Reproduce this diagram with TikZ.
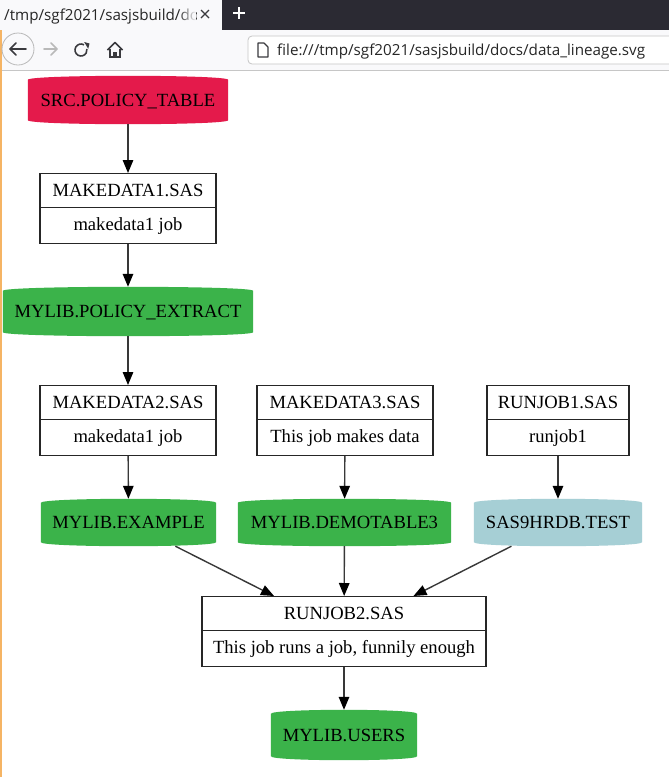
\documentclass[tikz,border=0pt]{standalone}
\usepackage{fontspec}
\setmainfont{Liberation Serif}
\newfontfamily\uifont{Open Sans}
\usetikzlibrary{arrows.meta,shapes.multipart,backgrounds,fadings}
\definecolor{srcred}{RGB}{228,26,75}
\definecolor{libgreen}{RGB}{59,179,74}
\definecolor{libblue}{RGB}{166,207,213}
\definecolor{barbg}{RGB}{43,42,51}
\definecolor{toolbg}{RGB}{249,249,251}
\definecolor{orangeline}{RGB}{245,180,100}
\definecolor{icondark}{RGB}{58,58,62}
\tikzset{
  dset/.style={minimum width=#1, minimum height=48pt, inner sep=0pt,
    text height=12.4pt, text depth=0pt, font=\fontsize{18.6}{22}\selectfont},
  jobbox/.style={draw=black!85, line width=1.1pt, rectangle split, rectangle split parts=2,
    minimum width=#1, inner xsep=0pt, inner ysep=8pt, anchor=north,
    font=\fontsize{18.6}{22}\selectfont, fill=white},
  flow/.style={draw=black!78, line width=1.4pt, -{Triangle[length=13pt,width=10.5pt,color=black]}},
  uitext/.style={font=\uifont\fontsize{15.2}{17}\selectfont, inner sep=0pt},
}
\newcommand\cylfill[2]{%
  \begin{scope}[on background layer]
  \fill[#2] ([yshift=-4pt]#1.north west) .. controls ([yshift=1.33pt]#1.north west) and ([yshift=1.33pt]#1.north east) .. ([yshift=-4pt]#1.north east)
    -- ([yshift=4pt]#1.south east) .. controls ([yshift=-1.33pt]#1.south east) and ([yshift=-1.33pt]#1.south west) .. ([yshift=4pt]#1.south west) -- cycle;
  \end{scope}}
\newcommand\jt[2]{\rule[-2.5pt]{0pt}{17pt}#1\nodepart{two}\rule[-2.5pt]{0pt}{17pt}#2}
\begin{document}
\begin{tikzpicture}[x=1pt,y=-1pt]
\useasboundingbox (0,0) rectangle (669,777);
\begin{scope}[on background layer]
\fill[white] (0,0) rectangle (669,777);
\end{scope}
% ---------- browser chrome ----------
\fill[barbg] (0,0) rectangle (669,30);
\fill[toolbg] (0,0) rectangle (222,30);
\fill[toolbg] (0,30) rectangle (669,70);
\draw[gray!45, line width=0.8pt] (0,70) -- (669,70);
\fill[orangeline] (0,30) rectangle (1.5,777);
\begin{scope}
  \clip (0,0) rectangle (196,30);
  \node[uitext, anchor=base west, text=black!85] (tabtext) at (4,20) {/tmp/sgf2021/sasjsbuild/docs/data\_lineage.svg};
  \fill[toolbg, path fading=west] (178,2) rectangle (196,28);
\end{scope}
\draw[icondark, line width=1.3pt] (201,10) -- (209,18) (201,18) -- (209,10);
\draw[white, line width=1.5pt] (233,13) -- (245,13) (239,7) -- (239,19);
% back
\draw[gray!55, line width=0.8pt, fill=toolbg] (18,49) circle (16);
\draw[icondark, line width=1.6pt, line cap=round, line join=round] (10,49) -- (26,49) (16,43) -- (10,49) -- (16,55);
% forward
\draw[gray!55, line width=1.6pt, line cap=round, line join=round] (44,49) -- (57,49) (51,43) -- (57,49) -- (51,55);
% reload
\begin{scope}[shift={(81,50)}, y=1pt]
  \draw[icondark, line width=1.6pt] (60:6) arc (60:370:6);
  \fill[icondark] (3.2,8) -- (8.5,6.5) -- (7.2,1.2) -- cycle;
\end{scope}
% home
\begin{scope}[shift={(115,50)}, y=1pt]
  \draw[icondark, line width=1.5pt, line join=round] (-7.5,0) -- (0,7.5) -- (7.5,0);
  \draw[icondark, line width=1.5pt] (-5,1.5) -- (-5,-7) -- (5,-7) -- (5,1.5);
  \fill[icondark] (-1.8,-7) rectangle (1.8,-2);
\end{scope}
% url bar
\draw[gray!45, line width=0.8pt, fill=white, rounded corners=4pt] (248,36) rectangle (690,64);
\draw[icondark, line width=1.1pt, line join=round] (258,43) -- (264,43) -- (268,47) -- (268,57) -- (258,57) -- cycle;
\node[uitext, anchor=base west, text=black!85] (url) at (277,55) {file:///tmp/sgf2021/sasjsbuild/docs/data\_lineage.svg};
% ---------- diagram ----------
\node[dset=200pt, minimum height=48pt] (src) at (128,100) {SRC.POLICY\_TABLE};
\cylfill{src}{srcred}
\node[jobbox=176pt] (mk1) at (128,173) {\jt{MAKEDATA1.SAS}{makedata1 job}};
\node[dset=250pt, minimum height=49pt] (pe) at (128,311.5) {MYLIB.POLICY\_EXTRACT};
\cylfill{pe}{libgreen}
\node[jobbox=176pt] (mk2) at (128,385) {\jt{MAKEDATA2.SAS}{makedata1 job}};
\node[jobbox=176pt] (mk3) at (345,385) {\jt{MAKEDATA3.SAS}{This job makes data}};
\node[jobbox=142pt] (rj1) at (558,385) {\jt{RUNJOB1.SAS}{runjob1}};
\node[dset=175pt, minimum height=47pt] (ex) at (128.5,522.5) {MYLIB.EXAMPLE};
\cylfill{ex}{libgreen}
\node[dset=213pt, minimum height=47pt] (dt) at (344.5,522.5) {MYLIB.DEMOTABLE3};
\cylfill{dt}{libgreen}
\node[dset=168pt, minimum height=47pt] (sas) at (558,522.5) {SAS9HRDB.TEST};
\cylfill{sas}{libblue}
\node[jobbox=284pt] (rj2) at (344,596) {\jt{RUNJOB2.SAS}{This job runs a job, funnily enough}};
\node[dset=146pt, minimum height=50pt] (us) at (344,735) {MYLIB.USERS};
\cylfill{us}{libgreen}
% edges
\draw[flow] (src) -- (mk1);
\draw[flow] (mk1) -- (pe);
\draw[flow] (pe) -- (mk2);
\draw[flow] (mk2) -- (ex);
\draw[flow] (mk3) -- (dt);
\draw[flow] (rj1) -- (sas);
\draw[flow] (ex) -- (rj2);
\draw[flow] (dt) -- (rj2);
\draw[flow] (sas) -- (rj2);
\draw[flow] (rj2) -- (us);
\end{tikzpicture}
\end{document}
